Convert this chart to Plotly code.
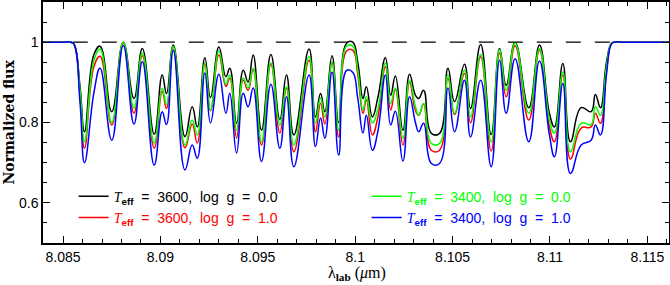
import plotly.graph_objects as go

# wavelength grid (micron) at features
wavelength = [8.08397, 8.08500, 8.08540, 8.08556, 8.08587, 8.08610, 8.08659, 8.08690, 8.08750, 8.08809,
              8.08864, 8.08907, 8.08968, 8.09009, 8.09031, 8.09066, 8.09126, 8.09163,
              8.09189, 8.09228, 8.09257, 8.09300, 8.09336, 8.09356, 8.09391, 8.09425,
              8.09450, 8.09476, 8.09519, 8.09567, 8.09613, 8.09647, 8.09685, 8.09763,
              8.09796, 8.09822, 8.09844, 8.09881, 8.09915, 8.09956, 8.09987, 8.10013,
              8.10040, 8.10057, 8.10088, 8.10117, 8.10155, 8.10182, 8.10206, 8.10245,
              8.10279, 8.10309, 8.10326, 8.10351, 8.10391, 8.10433, 8.10476, 8.10510,
              8.10561, 8.10592, 8.10644, 8.10698, 8.10741, 8.10775, 8.10821, 8.10891,
              8.10946, 8.10997, 8.11023, 8.11066, 8.11105, 8.11160, 8.11211, 8.11233,
              8.11259, 8.11290, 8.11315, 8.11330, 8.11380, 8.11611]

flux_3600_g0 = [1.0, 1.0, 1.0, 0.995, 0.89, 0.777, 0.97, 0.99, 0.827, 1.0,
                0.86, 0.984, 0.771, 0.918, 0.872, 0.993, 0.765, 0.839,
                0.789, 0.961, 0.862, 0.988, 0.914, 0.935, 0.798, 0.93,
                0.901, 0.968, 0.781, 0.969, 0.808, 0.918, 0.769, 0.983,
                0.814, 0.872, 0.827, 0.966, 0.80, 0.998, 1.0, 0.95,
                0.86, 0.889, 0.814, 0.864, 0.961, 0.868, 0.916, 0.781,
                0.92, 0.868, 0.86, 0.88, 0.773, 0.773, 0.935, 0.852,
                0.945, 0.835, 0.994, 0.77, 0.984, 0.893, 1.0, 0.837,
                0.993, 0.823, 0.789, 0.947, 0.752, 0.837, 0.827, 0.87,
                0.837, 0.95, 0.997, 1.0, 1.0, 1.0]

flux_3600_g1 = [1.0, 1.0, 1.0, 0.995, 0.87, 0.736, 0.94, 0.965, 0.794, 0.998,
                0.823, 0.966, 0.736, 0.878, 0.835, 0.988, 0.737, 0.796,
                0.749, 0.945, 0.829, 0.968, 0.89, 0.91, 0.761, 0.905,
                0.88, 0.932, 0.744, 0.945, 0.774, 0.885, 0.727, 0.955,
                0.777, 0.848, 0.796, 0.948, 0.764, 0.978, 0.98, 0.92,
                0.823, 0.856, 0.769, 0.815, 0.939, 0.831, 0.882, 0.744,
                0.90, 0.83, 0.818, 0.846, 0.731, 0.731, 0.91, 0.82,
                0.922, 0.799, 0.964, 0.729, 0.973, 0.864, 0.991, 0.806,
                0.98, 0.789, 0.752, 0.918, 0.709, 0.786, 0.789, 0.823,
                0.798, 0.93, 0.996, 1.0, 1.0, 1.0]

flux_3400_g0 = [1.0, 1.0, 1.0, 0.995, 0.88, 0.752, 0.955, 0.983, 0.80, 1.0,
                0.836, 0.973, 0.749, 0.885, 0.845, 0.99, 0.744, 0.806,
                0.769, 0.948, 0.831, 0.978, 0.895, 0.918, 0.781, 0.91,
                0.886, 0.935, 0.752, 0.948, 0.794, 0.889, 0.744, 0.964,
                0.799, 0.861, 0.814, 0.951, 0.781, 0.99, 0.99, 0.93,
                0.831, 0.864, 0.799, 0.835, 0.948, 0.848, 0.886, 0.761,
                0.905, 0.84, 0.818, 0.848, 0.748, 0.748, 0.918, 0.823,
                0.93, 0.814, 0.969, 0.752, 0.982, 0.88, 0.998, 0.823,
                0.984, 0.806, 0.773, 0.926, 0.727, 0.798, 0.795, 0.839,
                0.818, 0.94, 0.996, 1.0, 1.0, 1.0]

flux_3400_g1 = [1.0, 1.0, 1.0, 0.995, 0.85, 0.70, 0.876, 0.935, 0.756, 0.992,
                0.796, 0.951, 0.694, 0.827, 0.795, 0.98, 0.682, 0.744,
                0.711, 0.923, 0.799, 0.92, 0.823, 0.873, 0.724, 0.873,
                0.839, 0.886, 0.703, 0.895, 0.736, 0.864, 0.69, 0.918,
                0.74, 0.811, 0.761, 0.926, 0.719, 0.93, 0.925, 0.86,
                0.774, 0.818, 0.731, 0.78, 0.918, 0.794, 0.828, 0.704,
                0.864, 0.80, 0.777, 0.798, 0.698, 0.698, 0.886, 0.777,
                0.905, 0.764, 0.905, 0.69, 0.955, 0.823, 0.959, 0.752,
                0.953, 0.769, 0.715, 0.897, 0.673, 0.744, 0.756, 0.794,
                0.769, 0.92, 0.995, 1.0, 1.0, 1.0]

continuum_x = [8.0855, 8.1131]
continuum_y = [1.0, 1.0]

series = [
    ("3600", "0.0", flux_3600_g0, "#000000", 1),
    ("3600", "1.0", flux_3600_g1, "#ff0000", 3),
    ("3400", "0.0", flux_3400_g0, "#00ff00", 2),
    ("3400", "1.0", flux_3400_g1, "#0000ff", 4),
]

fig = go.Figure()
fig.add_trace(go.Scatter(x=continuum_x, y=continuum_y, mode="lines",
                         line=dict(color="black", width=1.3, dash="15px,14px"),
                         showlegend=False, hoverinfo="skip"))
for teff, logg, flux, col, rank in series:
    name = (f"<span style='color:{col}'><i><span style='font-family:Liberation Serif'>T</span></i>"
            f"<sub><b>eff</b></sub>  =  {teff},  log  g  =  {logg}</span>")
    fig.add_trace(go.Scatter(x=wavelength, y=flux, mode="lines", name=name,
                             line=dict(color=col, width=1.5, shape="spline", smoothing=1.3),
                             legendrank=rank))

axis_common = dict(showline=True, linecolor="black", linewidth=1.5, mirror="ticks",
                   ticks="inside", tickcolor="black", tickwidth=1, showgrid=False,
                   zeroline=False, automargin=False,
                   tickfont=dict(family="Liberation Sans, Arial", size=14, color="black"))

fig.update_xaxes(range=[8.08397, 8.11611], tickvals=[8.085, 8.09, 8.095, 8.1, 8.105, 8.11, 8.115],
                 ticktext=["8.085", "8.09", "8.095", "8.1", "8.105", "8.11", "8.115"], ticklen=7,
                 minor=dict(dtick=0.001, tick0=8.085, ticks="inside", ticklen=4, tickcolor="black"),
                 **axis_common)
fig.update_yaxes(range=[0.5, 1.1], ticklen=7,
                 tickvals=[0.6, 0.8, 1.0], ticktext=["0.6", "0.8", "1"],
                 minor=dict(dtick=0.05, tick0=0.5, ticks="inside", ticklen=4, tickcolor="black"),
                 **axis_common)

fig.add_annotation(text="λ<sub><b>lab</b></sub> (<i>μ</i>m)", xref="paper", yref="paper",
                   x=(357 - 43) / 626, y=-(273 - 243) / 241, xanchor="center", yanchor="middle",
                   showarrow=False, font=dict(family="Liberation Serif, serif", size=16, color="black"))
fig.add_annotation(text="<b>Normalized flux</b>", xref="paper", yref="paper",
                   x=-(43 - 8) / 626, y=0.5, xanchor="center", yanchor="middle", textangle=-90,
                   showarrow=False, font=dict(family="DejaVu Serif, serif", size=14, color="black"))

fig.update_layout(
    width=670, height=285,
    margin=dict(l=43, r=1, t=2, b=42),
    plot_bgcolor="white", paper_bgcolor="white",
    showlegend=True,
    legend=dict(orientation="h", x=0.049, y=0.259, xanchor="left", yanchor="top",
                entrywidth=248, entrywidthmode="pixels",
                font=dict(family="Liberation Sans, Arial", size=14, color="black"),
                bgcolor="rgba(0,0,0,0)", tracegroupgap=0),
)

fig.write_html("out.html", config={"displayModeBar": False},
               post_script="document.body.style.margin='0px';")
